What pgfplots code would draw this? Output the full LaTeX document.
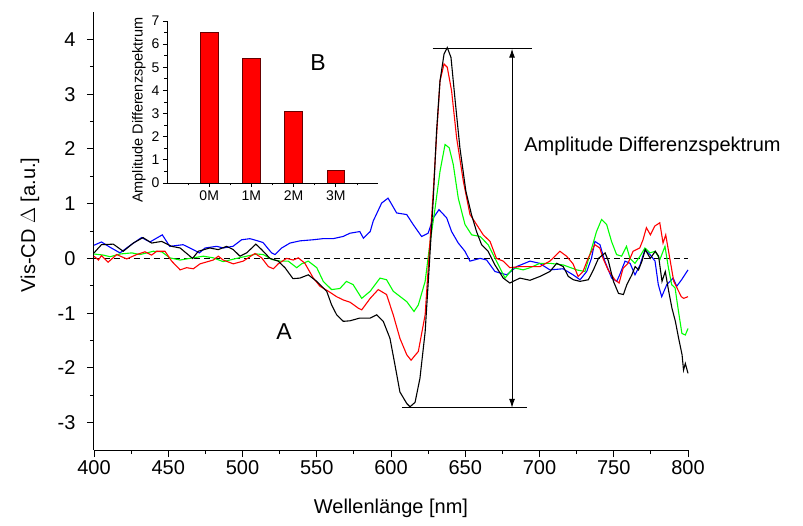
\documentclass[border=0pt]{standalone}
\usepackage{pgfplots}
\pgfplotsset{compat=1.18}
\usepackage{fontspec}
\setmainfont{Liberation Sans}
\usetikzlibrary{arrows.meta}

\begin{document}
\begin{tikzpicture}
\useasboundingbox (-94pt,-75pt) rectangle (709pt,450pt);
% main spectra
\begin{axis}[
    at={(0pt,0pt)}, anchor=south west,
    scale only axis,
    width=594pt, height=438pt,
    xmin=400, xmax=800, ymin=-3.5, ymax=4.5,
    axis x line*=bottom, axis y line*=left,
    axis line style={black, line width=1pt},
    tick align=outside,
    major tick length=7pt, minor tick length=4pt,
    every tick/.style={black, line width=0.9pt},
    xtick={400,450,...,800},
    xticklabels={400,450,500,550,600,650,700,750,800},
    ytick={-3,-2,...,4},
    yticklabels={-3,-2,-1,0,1,2,3,4},
    minor x tick num=1, minor y tick num=1,
    tick label style={font=\fontsize{20}{24}\selectfont},
    yticklabel style={xshift=-8pt},
    xlabel={Wellenlänge [nm]},
    ylabel={Vis-CD $\Delta$ [a.u.]},
    label style={font=\fontsize{20}{24}\selectfont},
    xlabel style={at={(axis description cs:0.5,0)}, anchor=center, yshift=-58pt},
    ylabel style={at={(axis description cs:0,0.5)}, anchor=center, yshift=64pt, xshift=6pt},
    clip=false,
]
\addplot[black, line width=1pt, dash pattern=on 6pt off 4pt, forget plot] coordinates {(400,0) (800,0)};

\addplot[blue, line width=1.1pt] coordinates {
(400,0.24)(405,0.30)(411,0.2)(417.5,0.10)(425,0.25)(432,0.38)(437.7,0.30)(446,0.43)(451,0.22)(460,0.25)
(464.6,0.19)(471,0.10)(474.8,0.19)(482.6,0.22)(487,0.19)(493.6,0.22)(499.4,0.34)(505,0.36)(509,0.33)(513.8,0.29)
(519.6,0.10)(521.9,0.07)(526.4,0.19)(532,0.28)(538.7,0.32)(547.5,0.34)(554,0.36)(561,0.36)(567.7,0.40)(572.4,0.46)
(579,0.49)(581.4,0.37)(586,0.49)(588,0.68)(593.7,1.01)(598,1.10)(600.4,0.99)(603.8,0.83)(610.6,0.80)(614.9,0.62)
(620.6,0.40)(625,0.46)(628.5,0.74)(632.3,0.89)(637.5,0.74)(640.8,0.49)(645.3,0.28)(649.8,0.13)(653.2,-0.05)(660,0.0)
(664.4,-0.03)(670,-0.24)(678,-0.30)(684.6,-0.15)(693.6,-0.05)(700,-0.09)(707,-0.21)(715.8,-0.19)(722.6,-0.30)(727.3,-0.39)
(731.8,-0.24)(735,0.0)(737.3,0.31)(740.7,0.25)(744,-0.05)(748.6,-0.36)(752,-0.42)(754,-0.30)(757.6,-0.05)(761,-0.09)
(764.3,-0.30)(767.7,-0.12)(771,0.16)(774.4,0.07)(777.8,-0.05)(780,-0.48)(782.3,-0.70)(785.7,-0.48)(790,-0.36)(792.4,-0.51)
(795.7,-0.39)(800,-0.21)
};

\addplot[green, line width=1.1pt] coordinates {
(400,0.08)(406.3,0.06)(410.8,0.03)(417.5,0.08)(425.4,0.10)(431,0.07)(440,0.13)(445.6,0.12)(451,0.01)(458,-0.03)
(464.6,0.0)(473.6,0.04)(480.3,0.01)(487,-0.06)(496,0.0)(502.8,0.04)(509.6,0.08)(514,0.07)(519.7,-0.02)(525.3,-0.05)
(530.8,-0.05)(536.5,-0.17)(539.8,-0.10)(544.3,-0.05)(550,-0.17)(554.4,-0.42)(560,-0.57)(565.6,-0.55)(570,-0.42)(574.5,-0.48)
(580.3,-0.73)(586,-0.60)(592.6,-0.36)(597,-0.39)(601.5,-0.60)(610.6,-0.79)(615.5,-0.97)(618.4,-0.85)(623,-0.42)(625.8,0.19)
(629.7,0.92)(633,1.59)(636.4,2.08)(639.2,2.02)(641.9,1.72)(645.3,1.10)(649.8,0.62)(654.3,0.43)(660,0.40)(665.4,0.25)
(671,-0.05)(676.8,-0.36)(682.4,-0.17)(689.1,-0.21)(693.6,-0.17)(700.3,-0.09)(707,-0.09)(716,-0.12)(725,-0.21)(730.6,-0.24)
(733.9,0.07)(738.4,0.49)(741.8,0.71)(745.2,0.62)(748.5,0.31)(751.9,0.07)(755.3,0.04)(758.6,0.22)(760.9,0.0)(764.3,-0.09)
(767.7,0.04)(771,0.19)(774.4,0.10)(777.8,0.13)(781.1,-0.02)(784.5,0.22)(786.8,-0.17)(789,-0.48)(791.3,-0.54)(793.6,-0.97)
(795.9,-1.37)(798.2,-1.40)(800,-1.28)
};

\addplot[red, line width=1.1pt] coordinates {
(400,0.04)(403,-0.03)(405,0.05)(409.5,-0.07)(415.3,0.07)(422,-0.01)(428.7,0.07)(434.3,0.12)(438.8,0.06)(442.2,0.13)
(447.8,0.13)(452.3,-0.05)(458,-0.21)(462.4,-0.17)(466.9,-0.19)(471.4,-0.10)(480.3,-0.03)(483.7,0.04)(487,-0.03)(493.8,-0.10)
(500.5,-0.05)(508.4,0.09)(512.9,0.01)(517.4,-0.15)(520.8,-0.19)(524,-0.10)(529.7,0.0)(534.2,-0.03)(537.6,0.01)(542,-0.09)
(547.7,-0.36)(552.2,-0.51)(557.8,-0.60)(563.4,-0.70)(567.9,-0.76)(572.4,-0.80)(578,-0.91)(580.3,-0.94)(586,-0.73)(591.4,-0.57)
(597,-0.66)(601.5,-1.03)(606,-1.46)(610.6,-1.76)(613.5,-1.86)(618.4,-1.70)(623,-1.03)(625.2,-0.12)(628.2,1.10)(630.9,2.33)
(633,3.24)(635.7,3.55)(637.9,3.49)(640.8,3.06)(644.2,2.20)(648.7,1.41)(653.2,0.80)(657.6,0.62)(662.1,0.43)(666.7,0.31)
(671,0.0)(675.6,-0.05)(680,-0.17)(686.8,-0.15)(693.6,-0.15)(700.3,-0.15)(707,-0.05)(713.7,0.13)(718.2,0.04)(722.6,-0.10)
(726,-0.33)(729.3,-0.24)(732.7,0.0)(737.3,0.25)(740.6,0.19)(742.8,0.0)(746.2,-0.21)(750.7,-0.39)(753.6,-0.45)(756.3,-0.18)
(759.6,-0.09)(763,0.13)(767.5,0.19)(769.7,0.34)(772,0.56)(774.7,0.43)(777.6,0.59)(781,0.65)(783.2,0.28)(785,0.43)
(787.3,0.07)(790.4,-0.42)(795.5,-0.70)(797.1,-0.73)(800,-0.70)
};

\addplot[black, line width=1.1pt] coordinates {
(400,0.10)(405,0.25)(413,0.26)(419.7,0.13)(426.5,0.28)(433,0.38)(438.8,0.28)(445.6,0.31)(452.3,0.22)(458,0.19)
(464.6,0.04)(466.4,0.0)(470.2,0.13)(478,0.19)(483.7,0.16)(489.3,0.22)(493.8,0.16)(498.3,0.04)(502.8,0.10)(509,0.26)
(512.9,0.16)(518.5,0.0)(524,-0.05)(528.6,-0.17)(534,-0.37)(538.7,-0.36)(544.3,-0.30)(550,-0.42)(556.7,-0.60)(560,-0.85)
(563.4,-1.03)(567.9,-1.15)(572.4,-1.14)(579,-1.09)(586,-1.09)(590.4,-1.03)(594.8,-1.15)(599.3,-1.46)(602.7,-1.95)(606,-2.44)
(610.6,-2.65)(612.8,-2.71)(616.2,-2.63)(619.5,-2.19)(623,-1.34)(625.8,-0.12)(628.5,1.10)(630.7,2.33)(633,3.24)(635.7,3.73)
(637.9,3.85)(640.4,3.67)(643,2.94)(646.4,2.02)(650.4,1.23)(654.2,0.80)(657.6,0.49)(661,0.25)(665.4,0.13)(670,-0.12)
(675.6,-0.36)(680,-0.45)(686.8,-0.36)(693.6,-0.40)(700.3,-0.33)(707,-0.24)(711.6,-0.09)(716,-0.15)(719.4,-0.33)(722.8,-0.39)
(727.3,-0.42)(732.9,-0.39)(736.3,-0.21)(739.7,0.0)(744.2,0.10)(746.4,-0.05)(749.8,-0.42)(753.2,-0.64)(756.5,-0.66)(758.8,-0.48)
(762.2,-0.30)(764.4,-0.15)(766.7,-0.21)(769,-0.05)(771.2,0.16)(774.6,0.0)(778,0.13)(780.2,0.04)(782.5,-0.42)(784.7,-0.24)
(787,-0.60)(789.2,-0.91)(791.5,-1.15)(793.7,-1.46)(796,-1.76)(797,-2.04)(798.2,-1.92)(800,-2.10)
};

% amplitude marker
\draw[line width=1pt] (axis cs:628,3.83) -- (axis cs:695,3.83);
\draw[line width=1pt] (axis cs:607.4,-2.73) -- (axis cs:691.6,-2.73);
\draw[line width=1pt, {Latex[length=9pt,width=6pt]}-{Latex[length=9pt,width=6pt]}]
    (axis cs:681.5,3.83) -- (axis cs:681.5,-2.73);
\node[anchor=west, font=\fontsize{20}{24}\selectfont, inner sep=0pt] at (axis cs:689.6,2.05) {Amplitude Differenzspektrum};
\node[font=\fontsize{23}{27}\selectfont] at (axis cs:528,-1.34) {A};
\node[font=\fontsize{23}{27}\selectfont] at (axis cs:550.8,3.57) {B};
\end{axis}

% inset: amplitude per sample
\begin{axis}[
    at={(73pt,267pt)}, anchor=south west,
    scale only axis,
    width=211pt, height=162pt,
    xmin=-1, xmax=4, ymin=0, ymax=7,
    axis x line*=bottom, axis y line*=left,
    axis line style={black, line width=0.9pt},
    tick align=outside,
    major tick length=4pt, minor tick length=2.5pt,
    every tick/.style={black, line width=0.8pt},
    xtick={0,1,2,3}, xticklabels={0M,1M,2M,3M},
    minor xtick={-0.5,0.5,1.5,2.5,3.5},
    ytick={0,1,...,7}, yticklabels={0,1,2,3,4,5,6,7},
    minor y tick num=1,
    tick label style={font=\fontsize{14}{16}\selectfont},
    ylabel={Amplitude Differenzspektrum},
    ylabel style={font=\fontsize{14.5}{16}\selectfont, at={(axis description cs:0,0.5)}, anchor=center, yshift=28pt, xshift=-8pt},
    ybar, bar width=17.5pt,
]
\addplot[fill=red, draw=black!60!red, line width=0.9pt] coordinates {(0,6.51) (1,5.40) (2,3.10) (3,0.56)};
\end{axis}
\end{tikzpicture}
\end{document}
